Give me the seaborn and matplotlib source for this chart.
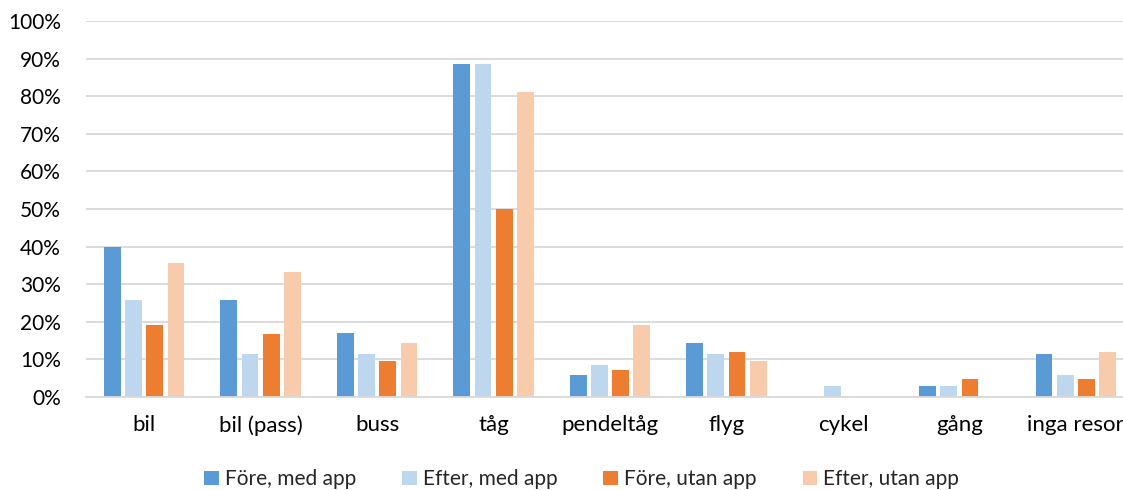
import matplotlib
matplotlib.use("Agg")
import matplotlib.pyplot as plt
import matplotlib.ticker as mticker
import seaborn as sns
import pandas as pd

# Travel modes and share of respondents per group
categories = ["bil", "bil (pass)", "buss", "tåg", "pendeltåg", "flyg", "cykel", "gång", "inga resor"]
series_names = ["Före, med app", "Efter, med app", "Före, utan app", "Efter, utan app"]
fore_med_app = [40.0, 25.7, 17.1, 88.6, 5.7, 14.3, 0.0, 2.9, 11.4]
efter_med_app = [25.7, 11.4, 11.4, 88.6, 8.6, 11.4, 2.9, 2.9, 5.7]
fore_utan_app = [19.0, 16.7, 9.5, 50.0, 7.1, 11.9, 0.0, 4.8, 4.8]
efter_utan_app = [35.7, 33.3, 14.3, 81.0, 19.0, 9.5, 0.0, 0.0, 11.9]
y_ticks = [0, 10, 20, 30, 40, 50, 60, 70, 80, 90, 100]

colors = ["#5B9BD5", "#BDD7EE", "#ED7D31", "#F8CBAD"]

values = [fore_med_app, efter_med_app, fore_utan_app, efter_utan_app]
df = pd.DataFrame(
    [(c, s, v[i]) for s, v in zip(series_names, values) for i, c in enumerate(categories)],
    columns=["kategori", "grupp", "andel"],
)

sns.set_theme(style="white")
plt.rcParams["font.family"] = ["Lato", "DejaVu Sans"]

fig = plt.figure(figsize=(11.23, 4.90), dpi=100)
ax = fig.add_axes([86 / 1123, 0.19, 1048 / 1123, 0.767])

sns.barplot(
    data=df, x="kategori", y="andel", hue="grupp",
    order=categories, hue_order=series_names, palette=colors,
    width=0.73, ax=ax, legend=True, errorbar=None, saturation=1,
)

# Leave a small gap between neighbouring bars in each group
for p in ax.patches:
    w = p.get_width()
    if w > 0:
        nw = w * 0.79
        p.set_x(p.get_x() + (w - nw) / 2)
        p.set_width(nw)
    p.set_linewidth(0)

ax.set_ylim(0, 100)
ax.set_xlim(-0.5, len(categories) - 0.5)
ax.set_yticks(y_ticks)
ax.yaxis.set_major_formatter(mticker.FuncFormatter(lambda v, _: f"{int(v)}%"))
ax.yaxis.grid(True, color="#D9D9D9", linewidth=1.3)
ax.set_axisbelow(True)
for side in ["top", "right", "left"]:
    ax.spines[side].set_visible(False)
ax.spines["bottom"].set_color("#D9D9D9")
ax.spines["bottom"].set_linewidth(1.3)
ax.tick_params(axis="y", labelsize=15, colors="#000000", length=0, pad=18)
ax.tick_params(axis="x", labelsize=16, colors="#000000", length=0, pad=13)
ax.set_xlabel("")
ax.set_ylabel("")

handles, labels = ax.get_legend_handles_labels()
ax.get_legend().remove()
fig.legend(
    handles, labels, loc="center", bbox_to_anchor=(0.518, 0.022), ncol=4,
    frameon=False, fontsize=15, handlelength=0.7, handleheight=0.7,
    handletextpad=0.3, columnspacing=2.2,
)

fig.savefig("out.png", dpi=100)
